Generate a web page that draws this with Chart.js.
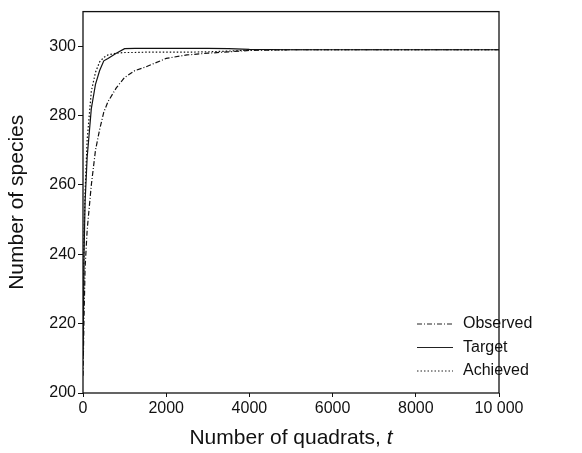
<!DOCTYPE html>
<html>
<head>
<meta charset="utf-8">
<script src="https://cdn.jsdelivr.net/npm/chart.js@4/dist/chart.umd.min.js"></script>
<style>
  html, body { margin: 0; padding: 0; background: #fff; }
  #wrap { width: 582px; height: 453px; }
</style>
</head>
<body>
<div id="wrap"><canvas id="c"></canvas></div>
<script>
// Number of quadrats sampled
const quadrats = [1, 25, 50, 100, 200, 300, 400, 500, 600, 800, 1000, 1250, 1500, 2000, 2500, 3000, 3500, 4000, 5000, 6000, 7000, 8000, 9000, 10000];

// Number of species for each curve
const observed = [205, 222, 236, 247, 260, 270, 276, 281, 284, 288, 291, 293, 294, 296.5, 297.5, 298, 298.4, 298.8, 299, 299, 299, 299, 299, 299];
const target   = [210, 240, 255, 268, 282, 289, 293, 295.8, 296.5, 298, 299.3, 299.4, 299.4, 299.4, 299.4, 299.4, 299.3, 299.1, 299, 299, 299, 299, 299, 299];
const achieved = [214, 245, 258, 273, 287, 292.5, 295.5, 296.8, 297.5, 298, 298.2, 298.2, 298.3, 298.3, 298.3, 298.4, 298.6, 298.9, 299, 299, 299, 299, 299, 299];

const yTicks = [200, 220, 240, 260, 280, 300];
const xTicks = [0, 2000, 4000, 6000, 8000, 10000];

const toPoints = (ys) => quadrats.map((t, i) => ({ x: t, y: ys[i] }));

const series = [
  { label: "Observed", data: observed, dash: [5, 2, 1, 2] },
  { label: "Target", data: target, dash: [] },
  { label: "Achieved", data: achieved, dash: [1.5, 2] },
];

const FONT = "'Liberation Sans', Arial, sans-serif";

// frame around the plot + legend in bottom right + x title with italic t
const extras = {
  id: "extras",
  afterDraw(chart) {
    const { ctx, chartArea: a } = chart;
    ctx.save();
    ctx.strokeStyle = "#111";
    ctx.lineWidth = 1.3;
    ctx.setLineDash([]);
    ctx.strokeRect(a.left, a.top, a.right - a.left, a.bottom - a.top);

    // legend
    ctx.font = "16px " + FONT;
    ctx.textBaseline = "middle";
    ctx.fillStyle = "#111";
    series.forEach((s, i) => {
      const y = 324 + i * 23.5;
      ctx.beginPath();
      ctx.lineWidth = 1;
      ctx.strokeStyle = "#222";
      ctx.setLineDash(s.dash);
      ctx.moveTo(417, y);
      ctx.lineTo(453, y);
      ctx.stroke();
      ctx.setLineDash([]);
      ctx.fillText(s.label, 463, y);
    });

    // x axis title
    const main = "Number of quadrats, ";
    ctx.font = "21px " + FONT;
    const w1 = ctx.measureText(main).width;
    ctx.font = "italic 21px " + FONT;
    const w2 = ctx.measureText("t").width;
    const x0 = (a.left + a.right) / 2 - (w1 + w2) / 2;
    ctx.textBaseline = "alphabetic";
    ctx.font = "21px " + FONT;
    ctx.fillText(main, x0, 444);
    ctx.font = "italic 21px " + FONT;
    ctx.fillText("t", x0 + w1, 444);
    ctx.restore();
  },
};

new Chart(document.getElementById("c"), {
  type: "line",
  data: {
    datasets: series.map((s) => ({
      label: s.label,
      data: toPoints(s.data),
      borderColor: "#111",
      borderWidth: 1.2,
      borderDash: s.dash,
      pointRadius: 0,
      tension: 0,
      fill: false,
    })),
  },
  options: {
    responsive: true,
    maintainAspectRatio: false,
    animation: false,
    layout: { padding: { left: 0, right: 83, top: 9, bottom: 0 } },
    plugins: {
      legend: { display: false },
      tooltip: { enabled: false },
    },
    scales: {
      x: {
        type: "linear",
        min: 0,
        max: 10000,
        afterBuildTicks: (scale) => { scale.ticks = xTicks.map((v) => ({ value: v })); },
        afterFit: (scale) => { scale.height = 60; },
        grid: { drawOnChartArea: false, tickLength: 4, color: "#111" },
        border: { display: false },
        ticks: {
          color: "#111",
          padding: 2,
          maxRotation: 0,
          font: { size: 16, family: FONT },
          callback: (v) => (v === 10000 ? "10 000" : String(v)),
        },
      },
      y: {
        min: 200,
        max: 310,
        afterBuildTicks: (scale) => { scale.ticks = yTicks.map((v) => ({ value: v })); },
        afterFit: (scale) => { scale.width = 83; },
        grid: { drawOnChartArea: false, tickLength: 5, color: "#111" },
        border: { display: false },
        title: {
          display: true,
          text: "Number of species",
          color: "#111",
          padding: { top: 5, bottom: 10 },
          font: { size: 21, family: FONT },
        },
        ticks: {
          color: "#111",
          padding: 2,
          font: { size: 16, family: FONT },
        },
      },
    },
  },
  plugins: [extras],
});
</script>
</body>
</html>
